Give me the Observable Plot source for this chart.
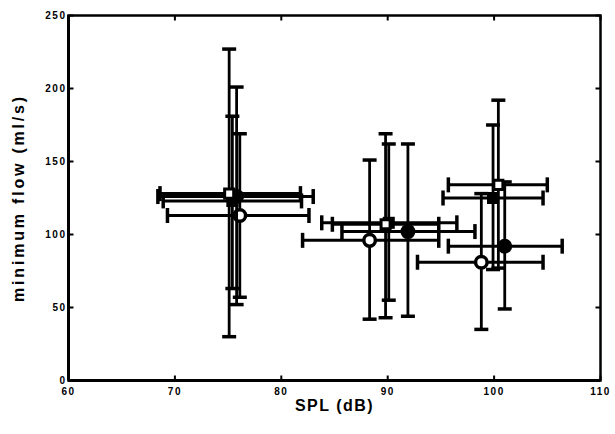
<!DOCTYPE html>
<html>
<head>
<meta charset="utf-8">
<script src="https://cdn.jsdelivr.net/npm/d3@7"></script>
<script src="https://cdn.jsdelivr.net/npm/@observablehq/plot@0.6"></script>
<style>
  html, body { margin: 0; padding: 0; background: #fff; }
  svg { display: block; }
</style>
</head>
<body>
<div id="chart"></div>
<script>
// SPL (dB) mean, low, high ; minimum flow (ml/s) mean, low, high
const openSquare = [
  {spl: 75.1, splLo: 68.6, splHi: 81.8, flow: 128, flowLo: 30, flowHi: 227},
  {spl: 89.8, splLo: 84.8, splHi: 94.8, flow: 107, flowLo: 43, flowHi: 169},
  {spl: 100.4, splLo: 95.7, splHi: 105.0, flow: 134, flowLo: 77, flowHi: 192}
];
const filledSquare = [
  {spl: 75.4, splLo: 68.9, splHi: 81.9, flow: 123, flowLo: 63, flowHi: 181},
  {spl: 90.1, splLo: 83.8, splHi: 96.5, flow: 108, flowLo: 55, flowHi: 162},
  {spl: 99.9, splLo: 95.2, splHi: 104.6, flow: 125, flowLo: 76, flowHi: 175}
];
const filledCircle = [
  {spl: 75.8, splLo: 68.4, splHi: 83.0, flow: 126, flowLo: 52, flowHi: 201},
  {spl: 91.9, splLo: 85.7, splHi: 98.2, flow: 102, flowLo: 44, flowHi: 162},
  {spl: 101.0, splLo: 95.7, splHi: 106.4, flow: 92, flowLo: 49, flowHi: 136}
];
const openCircle = [
  {spl: 76.1, splLo: 69.3, splHi: 82.6, flow: 113, flowLo: 57, flowHi: 169},
  {spl: 88.3, splLo: 82.0, splHi: 94.8, flow: 96, flowLo: 42, flowHi: 151},
  {spl: 98.8, splLo: 92.8, splHi: 104.6, flow: 81, flowLo: 35, flowHi: 128}
];
const xTicks = [60, 70, 80, 90, 100, 110];
const yTicks = [0, 50, 100, 150, 200, 250];
const xLabel = "SPL (dB)";
const yLabel = "minimum flow (ml/s)";

const radius = size => Math.sqrt(size / Math.PI);
const hCap = {draw(c, s) { const r = radius(s); c.moveTo(-r, 0); c.lineTo(r, 0); }};
const vCap = {draw(c, s) { const r = radius(s); c.moveTo(0, -r); c.lineTo(0, r); }};
const upTick = {draw(c, s) { const r = radius(s); c.moveTo(0, 0); c.lineTo(0, -r); }};
const downTick = {draw(c, s) { const r = radius(s); c.moveTo(0, 0); c.lineTo(0, r); }};
const rightTick = {draw(c, s) { const r = radius(s); c.moveTo(0, 0); c.lineTo(r, 0); }};
const leftTick = {draw(c, s) { const r = radius(s); c.moveTo(0, 0); c.lineTo(-r, 0); }};

function errorMarks(data) {
  return [
    Plot.ruleX(data, {x: "spl", y1: "flowLo", y2: "flowHi", stroke: "black", strokeWidth: 2.8}),
    Plot.ruleY(data, {y: "flow", x1: "splLo", x2: "splHi", stroke: "black", strokeWidth: 3}),
    Plot.dot(data, {x: "spl", y: "flowLo", symbol: hCap, r: 7, fill: "none", stroke: "black", strokeWidth: 3.5}),
    Plot.dot(data, {x: "spl", y: "flowHi", symbol: hCap, r: 7, fill: "none", stroke: "black", strokeWidth: 3.5}),
    Plot.dot(data, {x: "splLo", y: "flow", symbol: vCap, r: 7.5, fill: "none", stroke: "black", strokeWidth: 3.5}),
    Plot.dot(data, {x: "splHi", y: "flow", symbol: vCap, r: 7.5, fill: "none", stroke: "black", strokeWidth: 3.5})
  ];
}

const chart = Plot.plot({
  width: 615,
  height: 434,
  marginLeft: 68,
  marginRight: 15,
  marginTop: 15,
  marginBottom: 54,
  x: {domain: [60, 110]},
  y: {domain: [0, 250]},
  style: {fontFamily: "'Liberation Sans', Arial, sans-serif", fontWeight: "bold", background: "white", color: "black"},
  marks: [
    Plot.frame({stroke: "black", strokeWidth: 2.5}),
    Plot.ruleX([60], {stroke: "black", strokeWidth: 3}),
    Plot.ruleY([0], {stroke: "black", strokeWidth: 3}),
    Plot.dot(xTicks, {x: d => d, y: () => 0, symbol: upTick, r: 5, fill: "none", stroke: "black", strokeWidth: 2}),
    Plot.dot(xTicks, {x: d => d, y: () => 250, symbol: downTick, r: 5, fill: "none", stroke: "black", strokeWidth: 2}),
    Plot.dot(yTicks, {y: d => d, x: () => 60, symbol: rightTick, r: 5, fill: "none", stroke: "black", strokeWidth: 2}),
    Plot.dot(yTicks, {y: d => d, x: () => 110, symbol: leftTick, r: 5, fill: "none", stroke: "black", strokeWidth: 2}),
    Plot.axisX(xTicks, {tickSize: 0, tickPadding: 7, fontSize: 10, fontWeight: "bold", label: null, tickFormat: d => String(d)}),
    Plot.axisY(yTicks, {tickSize: 0, tickPadding: 2, fontSize: 10, fontWeight: "bold", label: null, tickFormat: d => String(d)}),
    ...errorMarks(openCircle),
    Plot.dot(openCircle, {x: "spl", y: "flow", symbol: "circle", r: 5.8, fill: "white", stroke: "black", strokeWidth: 3.5}),
    ...errorMarks(filledCircle),
    Plot.dot(filledCircle, {x: "spl", y: "flow", symbol: "circle", r: 7.5, fill: "black", stroke: "none"}),
    ...errorMarks(filledSquare),
    Plot.dot(filledSquare, {x: "spl", y: "flow", symbol: "square", r: 6.8, fill: "black", stroke: "none"}),
    ...errorMarks(openSquare),
    Plot.dot(openSquare, {x: "spl", y: "flow", symbol: "square", r: 5.1, fill: "white", stroke: "black", strokeWidth: 3}),
    Plot.text([xLabel], {text: d => d, frameAnchor: "bottom", dy: 30, fontSize: 16, fontWeight: "bold", textAnchor: "middle", fill: "black"}),
    Plot.text([yLabel], {text: d => d, frameAnchor: "left", dx: -50, rotate: -90, fontSize: 16, fontWeight: "bold", textAnchor: "middle", fill: "black"})
  ]
});
const svg = d3.select(chart);
svg.selectAll('g[aria-label="x-axis tick label"] text, g[aria-label="y-axis tick label"] text')
  .style("letter-spacing", "1.5px");
svg.selectAll('g[aria-label="text"] text').each(function () {
  const t = d3.select(this).text();
  d3.select(this).style("letter-spacing", t === yLabel ? "2.8px" : "1.5px");
});
document.getElementById("chart").appendChild(chart);
</script>
</body>
</html>
